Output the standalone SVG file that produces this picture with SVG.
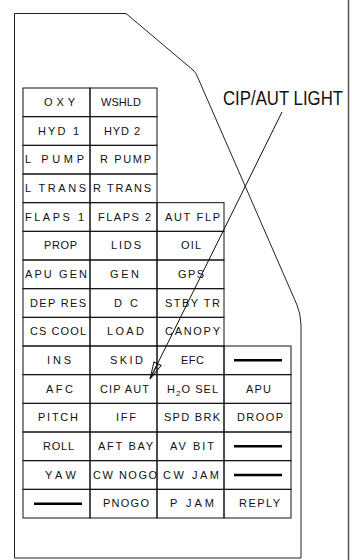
<svg xmlns="http://www.w3.org/2000/svg" width="352" height="560" viewBox="0 0 352 560">
<style>
.frame{fill:none;stroke:#222;stroke-width:1}
.page{fill:none;stroke:#555;stroke-width:1.5}
.cell{fill:none;stroke:#111;stroke-width:1}
.lbl{font-family:"Liberation Sans",Arial,sans-serif;font-size:11px;fill:#111}
.dash{stroke:#000;stroke-width:2.6}
.call{font-family:"Liberation Sans",Arial,sans-serif;font-size:17px;fill:#111}
.lead{fill:none;stroke:#111;stroke-width:1}
</style>
<defs>
<marker id="ah" markerUnits="userSpaceOnUse" viewBox="-1 -5 20 10" markerWidth="20" markerHeight="10" refX="17" refY="0" orient="auto">
<path d="M0,-4 L17,0 L0,4 Z M0,0 L17,0" fill="none" stroke="#111" stroke-width="1"/>
</marker>
</defs>
<rect width="352" height="560" fill="#fff"/>
<line class="page" x1="348.5" y1="0" x2="348.5" y2="560"/>
<path id="panel" class="frame" d="M14.5,13.5 H126 L193,70 Q196.5,73 198,78 L297,305 Q300.5,313 301,325 V558 H14.5 Z"/>
<g id="r0c0"><rect class="cell" x="23" y="88" width="67" height="28.67"/><text class="lbl" x="44" y="106" textLength="31">OXY</text></g>
<g id="r0c1"><rect class="cell" x="90" y="88" width="67" height="28.67"/><text class="lbl" x="101" y="106" textLength="40">WSHLD</text></g>
<g id="r1c0"><rect class="cell" x="23" y="116.67" width="67" height="28.67"/><text class="lbl" x="38" y="134.67" textLength="41">HYD 1</text></g>
<g id="r1c1"><rect class="cell" x="90" y="116.67" width="67" height="28.67"/><text class="lbl" x="104" y="134.67" textLength="36">HYD 2</text></g>
<g id="r2c0"><rect class="cell" x="23" y="145.33" width="67" height="28.67"/><text class="lbl" x="25" y="163.33" textLength="59">L PUMP</text></g>
<g id="r2c1"><rect class="cell" x="90" y="145.33" width="67" height="28.67"/><text class="lbl" x="100" y="163.33" textLength="51">R PUMP</text></g>
<g id="r3c0"><rect class="cell" x="23" y="174" width="67" height="28.67"/><text class="lbl" x="25" y="192" textLength="61">L TRANS</text></g>
<g id="r3c1"><rect class="cell" x="90" y="174" width="67" height="28.67"/><text class="lbl" x="93" y="192" textLength="58">R TRANS</text></g>
<g id="r4c0"><rect class="cell" x="23" y="202.67" width="67" height="28.67"/><text class="lbl" x="25" y="220.67" textLength="59">FLAPS 1</text></g>
<g id="r4c1"><rect class="cell" x="90" y="202.67" width="67" height="28.67"/><text class="lbl" x="98" y="220.67" textLength="53">FLAPS 2</text></g>
<g id="r4c2"><rect class="cell" x="157" y="202.67" width="67" height="28.67"/><text class="lbl" x="165" y="220.67" textLength="55">AUT FLP</text></g>
<g id="r5c0"><rect class="cell" x="23" y="231.33" width="67" height="28.67"/><text class="lbl" x="44" y="249.33" textLength="33">PROP</text></g>
<g id="r5c1"><rect class="cell" x="90" y="231.33" width="67" height="28.67"/><text class="lbl" x="111" y="249.33" textLength="30">LIDS</text></g>
<g id="r5c2"><rect class="cell" x="157" y="231.33" width="67" height="28.67"/><text class="lbl" x="181" y="249.33" textLength="20">OIL</text></g>
<g id="r6c0"><rect class="cell" x="23" y="260" width="67" height="28.67"/><text class="lbl" x="25" y="278" textLength="62">APU GEN</text></g>
<g id="r6c1"><rect class="cell" x="90" y="260" width="67" height="28.67"/><text class="lbl" x="110" y="278" textLength="29">GEN</text></g>
<g id="r6c2"><rect class="cell" x="157" y="260" width="67" height="28.67"/><text class="lbl" x="178" y="278" textLength="26">GPS</text></g>
<g id="r7c0"><rect class="cell" x="23" y="288.67" width="67" height="28.67"/><text class="lbl" x="30" y="306.67" textLength="56">DEP RES</text></g>
<g id="r7c1"><rect class="cell" x="90" y="288.67" width="67" height="28.67"/><text class="lbl" x="114" y="306.67" textLength="24">D C</text></g>
<g id="r7c2"><rect class="cell" x="157" y="288.67" width="67" height="28.67"/><text class="lbl" x="165" y="306.67" textLength="55">STBY TR</text></g>
<g id="r8c0"><rect class="cell" x="23" y="317.33" width="67" height="28.67"/><text class="lbl" x="30" y="335.33" textLength="56">CS COOL</text></g>
<g id="r8c1"><rect class="cell" x="90" y="317.33" width="67" height="28.67"/><text class="lbl" x="107" y="335.33" textLength="37">LOAD</text></g>
<g id="r8c2"><rect class="cell" x="157" y="317.33" width="67" height="28.67"/><text class="lbl" x="165" y="335.33" textLength="55">CANOPY</text></g>
<g id="r9c0"><rect class="cell" x="23" y="346" width="67" height="28.67"/><text class="lbl" x="47" y="364" textLength="24">INS</text></g>
<g id="r9c1"><rect class="cell" x="90" y="346" width="67" height="28.67"/><text class="lbl" x="110" y="364" textLength="33">SKID</text></g>
<g id="r9c2"><rect class="cell" x="157" y="346" width="67" height="28.67"/><text class="lbl" x="181" y="364" textLength="23">EFC</text></g>
<g id="r9c3"><rect class="cell" x="224" y="346" width="67" height="28.67"/><line class="dash" x1="234" y1="360.3" x2="282" y2="360.3"/></g>
<g id="r10c0"><rect class="cell" x="23" y="374.67" width="67" height="28.67"/><text class="lbl" x="46" y="392.67" textLength="27">AFC</text></g>
<g id="r10c1"><rect class="cell" x="90" y="374.67" width="67" height="28.67"/><text class="lbl" x="100" y="392.67" textLength="49">CIP AUT</text></g>
<g id="r10c2"><rect class="cell" x="157" y="374.67" width="67" height="28.67"/><text class="lbl" x="167" y="392.67" textLength="51">H<tspan font-size="8" dy="3">2</tspan><tspan dy="-3">O SEL</tspan></text></g>
<g id="r10c3"><rect class="cell" x="224" y="374.67" width="67" height="28.67"/><text class="lbl" x="246" y="392.67" textLength="25">APU</text></g>
<g id="r11c0"><rect class="cell" x="23" y="403.33" width="67" height="28.67"/><text class="lbl" x="38" y="421.33" textLength="40">PITCH</text></g>
<g id="r11c1"><rect class="cell" x="90" y="403.33" width="67" height="28.67"/><text class="lbl" x="116" y="421.33" textLength="20">IFF</text></g>
<g id="r11c2"><rect class="cell" x="157" y="403.33" width="67" height="28.67"/><text class="lbl" x="164" y="421.33" textLength="56">SPD BRK</text></g>
<g id="r11c3"><rect class="cell" x="224" y="403.33" width="67" height="28.67"/><text class="lbl" x="237" y="421.33" textLength="46">DROOP</text></g>
<g id="r12c0"><rect class="cell" x="23" y="432" width="67" height="28.67"/><text class="lbl" x="43" y="450" textLength="31">ROLL</text></g>
<g id="r12c1"><rect class="cell" x="90" y="432" width="67" height="28.67"/><text class="lbl" x="98" y="450" textLength="55">AFT BAY</text></g>
<g id="r12c2"><rect class="cell" x="157" y="432" width="67" height="28.67"/><text class="lbl" x="170" y="450" textLength="44">AV BIT</text></g>
<g id="r12c3"><rect class="cell" x="224" y="432" width="67" height="28.67"/><line class="dash" x1="234" y1="446.3" x2="282" y2="446.3"/></g>
<g id="r13c0"><rect class="cell" x="23" y="460.67" width="67" height="28.67"/><text class="lbl" x="45" y="478.67" textLength="31">YAW</text></g>
<g id="r13c1"><rect class="cell" x="90" y="460.67" width="67" height="28.67"/><text class="lbl" x="93" y="478.67" textLength="64">CW NOGO</text></g>
<g id="r13c2"><rect class="cell" x="157" y="460.67" width="67" height="28.67"/><text class="lbl" x="163" y="478.67" textLength="56">CW JAM</text></g>
<g id="r13c3"><rect class="cell" x="224" y="460.67" width="67" height="28.67"/><line class="dash" x1="234" y1="475" x2="282" y2="475"/></g>
<g id="r14c0"><rect class="cell" x="23" y="489.33" width="67" height="28.67"/><line class="dash" x1="34" y1="503.7" x2="82" y2="503.7"/></g>
<g id="r14c1"><rect class="cell" x="90" y="489.33" width="67" height="28.67"/><text class="lbl" x="103" y="507.33" textLength="46">PNOGO</text></g>
<g id="r14c2"><rect class="cell" x="157" y="489.33" width="67" height="28.67"/><text class="lbl" x="170" y="507.33" textLength="44">P JAM</text></g>
<g id="r14c3"><rect class="cell" x="224" y="489.33" width="67" height="28.67"/><text class="lbl" x="239" y="507.33" textLength="41">REPLY</text></g>
<g id="callout"><text class="call" transform="translate(223,105) scale(1,1.15)" x="0" y="0" textLength="120" lengthAdjust="spacingAndGlyphs">CIP/AUT LIGHT</text></g>
<g id="connectors"><line class="lead" x1="282" y1="112" x2="150" y2="379" marker-end="url(#ah)"/></g>
</svg>
